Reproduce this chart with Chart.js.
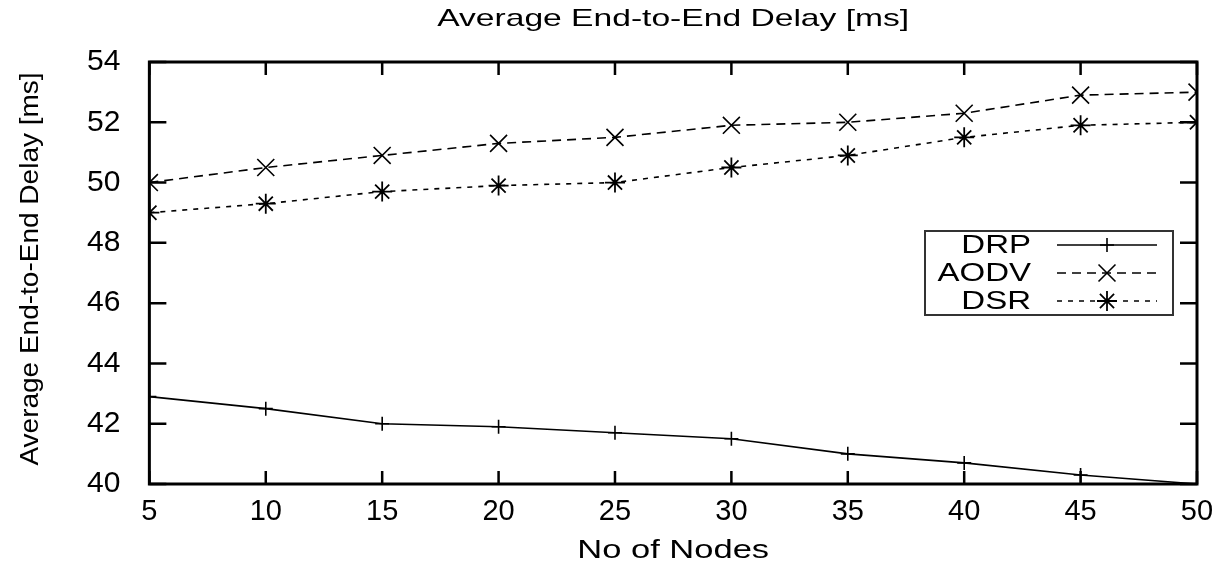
<!DOCTYPE html>
<html lang="en">
  <head>
    <meta charset="UTF-8" />
    <title>Average End-to-End Delay [ms]</title>
    <script src="https://cdn.jsdelivr.net/npm/chart.js"></script>
    <style>
      html, body { margin: 0; padding: 0; background: #fff; }
      #wrap { width: 1225px; height: 572px; }
    </style>
  </head>
  <body>
    <div id="wrap"><canvas id="delayChart"></canvas></div>

    <script>
      // data
      const nodes = [5, 10, 15, 20, 25, 30, 35, 40, 45, 50];
      const drp = [42.9, 42.5, 42.0, 41.9, 41.7, 41.5, 41.0, 40.7, 40.3, 40.0];
      const aodv = [50.0, 50.5, 50.9, 51.3, 51.5, 51.9, 52.0, 52.3, 52.9, 53.0];
      const dsr = [49.0, 49.3, 49.7, 49.9, 50.0, 50.5, 50.9, 51.5, 51.9, 52.0];
      const xTicks = [5, 10, 15, 20, 25, 30, 35, 40, 45, 50];
      const yTicks = [40, 42, 44, 46, 48, 50, 52, 54];

      const FONT = "'Liberation Sans', Arial, sans-serif";

      function pts(ys) {
        return nodes.map((x, i) => ({ x: x, y: ys[i] }));
      }

      // the original figure has its labels squeezed wide, so draw them stretched
      function wideText(ctx, text, x, y, size, stretch, angle) {
        ctx.save();
        ctx.translate(x, y);
        ctx.rotate(angle || 0);
        ctx.scale(stretch, 1);
        ctx.font = size + "px " + FONT;
        ctx.fillStyle = "#000";
        ctx.textAlign = "center";
        ctx.textBaseline = "middle";
        ctx.fillText(text, 0, 0);
        ctx.restore();
      }

      const titles = {
        id: "titles",
        afterDraw(chart) {
          const { ctx, chartArea: a } = chart;
          const cx = (a.left + a.right) / 2;
          wideText(ctx, "Average End-to-End Delay [ms]", cx, 19, 24, 1.4);
          wideText(ctx, "No of Nodes", cx, 551, 25, 1.38);
          wideText(ctx, "Average End-to-End Delay [ms]", 31, (a.top + a.bottom) / 2 - 4, 25, 1.12, -Math.PI / 2);
        },
      };

      // gnuplot style box with inward ticks on all four sides
      const frameTicks = {
        id: "frameTicks",
        afterDatasetsDraw(chart) {
          const { ctx, chartArea: a, scales } = chart;
          ctx.save();
          ctx.strokeStyle = "#000";
          ctx.lineWidth = 3;
          ctx.strokeRect(a.left, a.top, a.right - a.left, a.bottom - a.top);
          ctx.lineWidth = 2.5;
          ctx.beginPath();
          xTicks.forEach((v) => {
            const px = scales.x.getPixelForValue(v);
            ctx.moveTo(px, a.bottom);
            ctx.lineTo(px, a.bottom - 13);
            ctx.moveTo(px, a.top);
            ctx.lineTo(px, a.top + 13);
          });
          yTicks.forEach((v) => {
            const py = scales.y.getPixelForValue(v);
            ctx.moveTo(a.left, py);
            ctx.lineTo(a.left + 17, py);
            ctx.moveTo(a.right, py);
            ctx.lineTo(a.right - 17, py);
          });
          ctx.stroke();
          ctx.restore();
        },
      };

      // legend box inside the plot: label then line sample with its marker
      const boxLegend = {
        id: "boxLegend",
        afterDraw(chart) {
          const { ctx } = chart;
          const left = 925, top = 231, w = 248, h = 84;
          ctx.save();
          ctx.fillStyle = "#fff";
          ctx.fillRect(left, top, w, h);
          ctx.strokeStyle = "#333";
          ctx.lineWidth = 2;
          ctx.strokeRect(left, top, w, h);
          chart.data.datasets.forEach((ds, i) => {
            const y = 245 + i * 28;
            ctx.save();
            ctx.translate(1031, y + 1);
            ctx.scale(1.32, 1);
            ctx.font = "25px " + FONT;
            ctx.fillStyle = "#000";
            ctx.textAlign = "right";
            ctx.textBaseline = "middle";
            ctx.fillText(ds.label, 0, 0);
            ctx.restore();
            ctx.strokeStyle = "#000";
            ctx.lineWidth = 1.5;
            ctx.setLineDash(ds.borderDash || []);
            ctx.beginPath();
            ctx.moveTo(1057, y);
            ctx.lineTo(1157, y);
            ctx.stroke();
            ctx.setLineDash([]);
            ctx.lineWidth = ds.pointBorderWidth;
            Chart.helpers.drawPoint(ctx, {
              pointStyle: ds.pointStyle,
              radius: ds.pointRadius,
              borderWidth: ds.pointBorderWidth,
              rotation: 0,
            }, 1107, y);
          });
          ctx.restore();
        },
      };

      new Chart(document.getElementById("delayChart"), {
        type: "line",
        data: {
          datasets: [
            {
              label: "DRP",
              data: pts(drp),
              borderColor: "#000",
              borderWidth: 1.6,
              pointStyle: "cross",
              pointRadius: 7,
              pointBorderWidth: 1.6,
              pointBorderColor: "#000",
            },
            {
              label: "AODV",
              data: pts(aodv),
              borderColor: "#000",
              borderWidth: 1.6,
              borderDash: [9, 6],
              pointStyle: "crossRot",
              pointRadius: 12,
              pointBorderWidth: 1.6,
              pointBorderColor: "#000",
            },
            {
              label: "DSR",
              data: pts(dsr),
              borderColor: "#000",
              borderWidth: 1.6,
              borderDash: [5, 6],
              pointStyle: "star",
              pointRadius: 10,
              pointBorderWidth: 1.8,
              pointBorderColor: "#000",
            },
          ],
        },
        options: {
          responsive: true,
          maintainAspectRatio: false,
          animation: false,
          elements: { line: { tension: 0, fill: false } },
          layout: { padding: { left: 66, right: 28, top: 62, bottom: 0 } },
          plugins: {
            legend: { display: false },
            tooltip: { enabled: false },
            title: { display: false },
          },
          scales: {
            x: {
              type: "linear",
              min: 5,
              max: 50,
              afterBuildTicks: (s) => { s.ticks = xTicks.map((v) => ({ value: v })); },
              afterFit: (s) => { s.height = 88; },
              grid: { display: false },
              border: { display: false },
              ticks: { color: "#000", font: { family: FONT, size: 29 }, padding: 3, maxRotation: 0 },
            },
            y: {
              min: 40,
              max: 54,
              afterBuildTicks: (s) => { s.ticks = yTicks.map((v) => ({ value: v })); },
              grid: { display: false },
              border: { display: false },
              ticks: { color: "#000", font: { family: FONT, size: 30 }, padding: 21 },
            },
          },
        },
        plugins: [frameTicks, boxLegend, titles],
      });
    </script>
  </body>
</html>
